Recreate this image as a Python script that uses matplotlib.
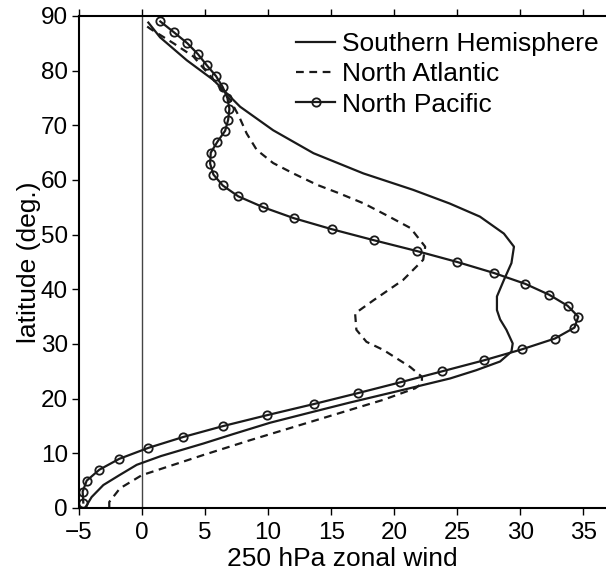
import numpy as np
import matplotlib
matplotlib.use("Agg")
import matplotlib.pyplot as plt

plt.rcParams["font.family"] = ["Liberation Sans", "DejaVu Sans"]

# Southern Hemisphere (solid)
sh_lat = [0, 2, 4.2, 6, 7.9, 9.5, 11.8, 13.5, 15.6, 17.5, 19.3, 21.5, 23.7,
          25.2, 26.8, 28.6, 30.1, 32.6, 34.5, 36.2, 38.7, 41.7, 44.8, 47.8,
          50.2, 53.3, 55.7, 58.2, 61.2, 64.9, 69.1, 73.4, 78.3, 81.9, 86.1,
          88.8]
sh_u = [-4.52, -4.0, -3.07, -1.8, -0.42, 1.5, 4.87, 7.2, 10.16, 13.4, 16.5,
        20.5, 24.44, 26.5, 28.4, 29.3, 29.4, 28.9, 28.4, 28.15, 28.15, 28.7,
        29.3, 29.5, 28.7, 26.8, 24.4, 21.5, 17.56, 13.6, 10.4, 7.78, 5.66,
        3.55, 1.43, 0.5]

# North Atlantic (dashed)
na_lat = [0, 1.1, 3.6, 6.0, 9.7, 12.4, 16.1, 19.8, 21.9, 22.8, 24.0, 25.8,
          28.9, 30.4, 32.6, 35.6, 38.0, 41.7, 45.4, 47.8, 51.2, 53.3, 55.7,
          57.6, 59.1, 61.2, 63.1, 65.5, 68.5, 71.6, 74.6, 78.5, 82.6, 85,
          87.7, 88.6]
na_u = [-2.6, -2.6, -1.75, -0.02, 4.87, 8.57, 13.86, 19.15, 21.67, 22.2,
        22.2, 21.27, 19.15, 17.8, 17.0, 16.9, 18.36, 20.7, 22.3, 22.46, 21.3,
        19.6, 17.6, 15.6, 13.9, 12.0, 10.4, 9.1, 8.3, 7.7, 7.0, 5.6, 4.07,
        2.5, 0.63, 0.1]

# North Pacific (open circles, every 2 degrees)
np_lat = list(range(1, 90, 2))
np_u = [-4.66, -4.71, -4.39, -3.39, -1.8, 0.5, 3.28, 6.45, 9.95, 13.6, 17.1,
        20.5, 23.8, 27.1, 30.1, 32.75, 34.3, 34.6, 33.75, 32.3, 30.4, 27.9,
        25.0, 21.8, 18.36, 15.05, 12.06, 9.63, 7.64, 6.4, 5.66, 5.4, 5.45,
        5.98, 6.59, 6.83, 6.93, 6.77, 6.4, 5.87, 5.13, 4.44, 3.6, 2.54, 1.45]

xticks = [-5, 0, 5, 10, 15, 20, 25, 30, 35]
yticks = [0, 10, 20, 30, 40, 50, 60, 70, 80, 90]

fig = plt.figure(figsize=(6.06, 5.70), dpi=100)
ax = fig.add_axes([79 / 606, 62 / 570, 527 / 606, 492 / 570])

ax.axvline(0, color="#444444", lw=1.0, zorder=1)
ax.plot(sh_u, sh_lat, color="#1a1a1a", lw=1.6, label="Southern Hemisphere")
ax.plot(na_u, na_lat, color="#1a1a1a", lw=1.6, ls=(0, (3.5, 2.5)),
        label="North Atlantic")
ax.plot(np_u, np_lat, color="#1a1a1a", lw=1.6, marker="o", ms=6,
        mfc="none", mew=1.3, label="North Pacific")

ax.set_xlim(-5, 36.8)
ax.set_ylim(0, 90)
ax.set_xticks(xticks)
ax.set_yticks(yticks)
ax.spines["right"].set_visible(False)
for s in ["left", "top", "bottom"]:
    ax.spines[s].set_linewidth(1.5)
ax.tick_params(axis="both", direction="out", length=5, width=1.0,
               labelsize=17.5, top=True)
ax.tick_params(axis="x", labeltop=False, pad=5)
ax.tick_params(axis="y", pad=3)

ax.set_xlabel("250 hPa zonal wind", fontsize=19)
ax.xaxis.set_label_coords(0.5, -0.079)
ax.set_ylabel("latitude (deg.)", fontsize=19, labelpad=0)

leg = ax.legend(loc="upper right", bbox_to_anchor=(1.021, 1.005),
                frameon=False, fontsize=19, handlelength=1.5,
                handletextpad=0.25, labelspacing=0.24, borderaxespad=0.3)

fig.savefig("out.png", dpi=100)
